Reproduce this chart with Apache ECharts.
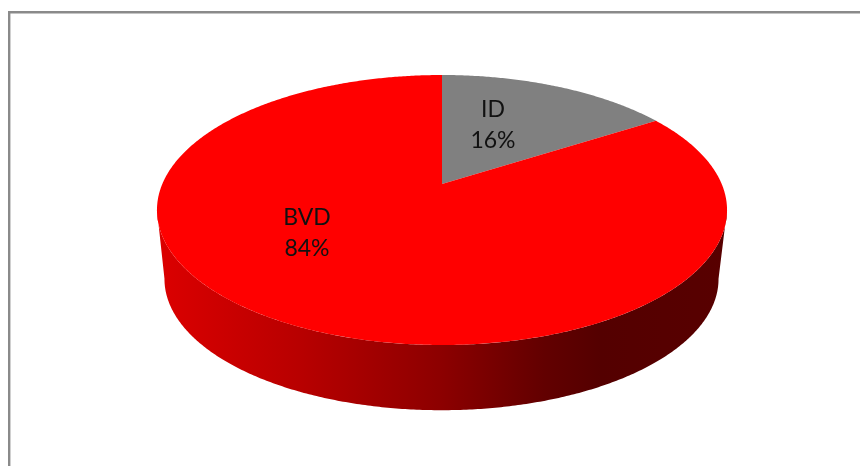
<!DOCTYPE html>
<html>
<head>
<meta charset="utf-8">
<style>html,body{margin:0;padding:0;background:#fff}#c{width:860px;height:466px}</style>
<script src="https://cdn.jsdelivr.net/npm/echarts@6/dist/echarts.min.js"></script>
</head>
<body>
<div id="c"></div>
<script>
const categories = ['ID', 'BVD'];
const values = [16, 84];
const percentLabels = ['16%', '84%'];

const sliceColors = ['#808080', '#ff0000'];
const labelAnchors = [[493, 125], [307, 233]];
const total = values.reduce((a, b) => a + b, 0);

// Perspective view of a circular disc: the top face and the lower rim.
const K = 0.1926, A = 279.7, B = 135, C = 26;
function project(theta, r, cx, cy, s) {
  const x = r * Math.sin(theta), y = r * Math.cos(theta), d = 1 + K * y;
  return [cx + s * A * x / d, cy - s * (B * y + C) / d];
}
const topFace = (t, r) => project(t, r, 442, 210, 1);
const rimEdge = t => project(t, 1, 441.5, 279, 277 / 285);
const D = Math.PI / 180;
function arc(fn, a, b) {
  const pts = [], n = Math.max(2, Math.ceil(Math.abs(b - a) / (0.5 * D)));
  for (let i = 0; i <= n; i++) pts.push(fn(a + (b - a) * i / n));
  return pts;
}
const wallFill = new echarts.graphic.LinearGradient(157, 0, 727, 0, [
  { offset: 0, color: '#dc0000' },
  { offset: 0.25, color: '#b80000' },
  { offset: 0.5, color: '#8c0000' },
  { offset: 0.68, color: '#620000' },
  { offset: 0.78, color: '#540000' },
  { offset: 1, color: '#580000' }
], true);

function renderItem(params, api) {
  const i = params.dataIndex;
  const before = values.slice(0, i).reduce((a, b) => a + b, 0);
  const a0 = before / total * 2 * Math.PI;
  const a1 = (before + api.value(0)) / total * 2 * Math.PI;
  const children = [];
  // The visible wall runs between the disc's left and right silhouette points.
  const w0 = Math.max(a0, 101 * D), w1 = Math.min(a1, 259 * D);
  if (w1 > w0) {
    children.push({
      type: 'polygon',
      shape: { points: arc(t => topFace(t, 1), w0, w1).concat(arc(rimEdge, w1, w0)) },
      style: { fill: wallFill }
    });
  }
  children.push({
    type: 'polygon',
    shape: { points: [topFace(0, 0)].concat(arc(t => topFace(t, 1), a0, a1)) },
    style: { fill: sliceColors[i] }
  });
  children.push({
    type: 'text',
    style: {
      x: labelAnchors[i][0], y: labelAnchors[i][1],
      text: categories[i] + '\n' + percentLabels[i],
      font: '23px Lato', lineHeight: 31,
      fill: '#111', align: 'center', verticalAlign: 'middle'
    }
  });
  return { type: 'group', children };
}

const chart = echarts.init(document.getElementById('c'), null, { renderer: 'canvas' });
chart.setOption({
  animation: false,
  backgroundColor: '#fff',
  graphic: [{
    type: 'rect', silent: true, z: -1,
    shape: { x: 9.2, y: 12.3, width: 900, height: 500 },
    style: { fill: 'none', stroke: '#8a8a8a', lineWidth: 2.4 }
  }],
  series: [{
    type: 'custom',
    coordinateSystem: 'none',
    renderItem,
    silent: true,
    data: values.map((v, i) => ({ name: categories[i], value: [v] }))
  }]
});
</script>
</body>
</html>
